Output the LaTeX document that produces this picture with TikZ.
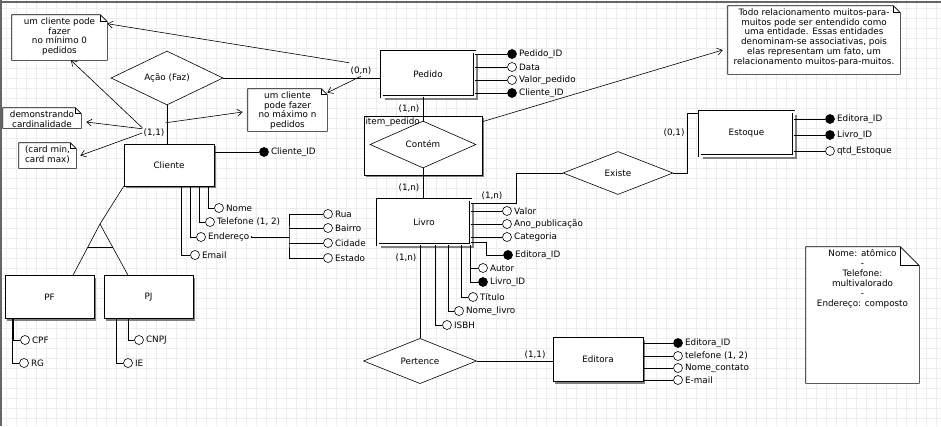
\documentclass[tikz,border=0pt]{standalone}
\usepackage{fontspec}
\setmainfont{DejaVu Sans}
\usetikzlibrary{shapes.geometric,shadows,arrows.meta}
\newcommand{\atrib}[4]{\node[atrib] (#1) at (#2,#3) {}; \node[rotulo] (#1-t) at (#1.east) {#4};}
\newcommand{\chave}[4]{\node[chave] (#1) at (#2,#3) {}; \node[rotulo] (#1-t) at (#1.east) {#4};}
\newcommand{\nota}[7]{\node[notabox, minimum width=#4, minimum height=#5] (#1) at (#2,#3) {};
  \filldraw[fill=white] (#1.north west) -- ([xshift=-#6]#1.north east) -- ([yshift=-#6]#1.north east) -- (#1.south east) -- (#1.south west) -- cycle;
  \draw ([xshift=-#6]#1.north east) -- ([xshift=-#6,yshift=-#6]#1.north east) -- ([yshift=-#6]#1.north east);
  \node[notatexto] (#1-t) at ([yshift=-2.5pt]#1.north) {#7};}
\tikzset{
  sombra/.style={drop shadow={shadow xshift=#1, shadow yshift=-#1, fill=black!50, opacity=1}},
  entidade/.style={draw, fill=white, inner sep=0pt, sombra=2pt},
  associativa/.style={draw, fill=white, inner sep=0pt, double, double distance=2pt, sombra=3.5pt},
  relacao/.style={diamond, draw, fill=white, inner sep=0pt},
  atrib/.style={circle, draw, fill=white, inner sep=0pt, minimum size=9pt},
  chave/.style={atrib, fill=black},
  rotulo/.style={anchor=west, inner sep=2pt},
  card/.style={inner sep=1pt},
  notabox/.style={draw=none, inner sep=0pt},
  notatexto/.style={anchor=north, align=center, inner sep=0pt},
  seta/.style={-{Straight Barb[length=5pt,width=7pt]}},
  rejilla/.style={black!7, line width=0.4pt}
}
\begin{document}
\begin{tikzpicture}[x=1pt, y=-1pt, semithick, font=\fontsize{8.8}{9.9}\selectfont]
        \useasboundingbox (0,0) rectangle (941,426);
        \fill[white] (0,0) rectangle (941,426);
        \foreach \gx in {6,16,...,936} \draw[rejilla] (\gx,0) -- (\gx,426);
        \foreach \gy in {8,18,...,418} \draw[rejilla] (0,\gy) -- (941,\gy);
        \draw[black!60, line width=1.5pt] (0,2) -- (941,2);
        \draw[black!60, line width=1.5pt] (1,0) -- (1,426);

        % notas
        \nota{nota1}{59.5}{37.5}{95pt}{45pt}{7pt}{um cliente pode\\fazer\\no mínimo 0\\pedidos}
        \nota{nota2}{42}{118}{78pt}{20pt}{6pt}{demonstrando\\cardinalidade}
        \nota{nota3}{47.5}{155.5}{57pt}{25pt}{6pt}{(card min,\\card max)}
        \nota{nota4}{287.5}{110}{79pt}{42pt}{6pt}{um cliente\\pode fazer\\no máximo n\\pedidos}
        \nota{nota5}{814}{40}{172pt}{68pt}{7pt}{Todo relacionamento muitos-para-\\muitos pode ser entendido como\\uma entidade. Essas entidades\\denominam-se associativas, pois\\elas representam um fato, um\\relacionamento muitos-para-muitos.}
        \nota{nota6}{862.5}{315}{113pt}{136pt}{19pt}{Nome: atômico\\-\\Telefone:\\multivalorado\\-\\Endereço: composto}

        % entidades
        \node[entidade, minimum width=90pt, minimum height=42pt] (cliente) at (169,165) {Cliente};
        \node[associativa, minimum width=93pt, minimum height=45pt] (pedido) at (428,74) {Pedido};
        \node[associativa, minimum width=93pt, minimum height=45pt] (livro) at (424,222) {Livro};
        \node[associativa, minimum width=94pt, minimum height=44pt] (estoque) at (746.5,133.5) {Estoque};
        \node[entidade, minimum width=90pt, minimum height=44pt] (editora) at (598,359.5) {Editora};
        \node[entidade, minimum width=89pt, minimum height=43pt] (pf) at (49.5,297) {PF};
        \node[entidade, minimum width=89pt, minimum height=43pt] (pj) at (148.5,297) {PJ};
        \node[entidade, minimum width=118pt, minimum height=59pt] (itempedido) at (423,145.5) {};

        % relacionamentos
        \node[relacao, minimum width=112pt, minimum height=38pt] (faz) at (167,78) {Ação (Faz)};
        \node[relacao, minimum width=106pt, minimum height=47pt] (contem) at (423,144.5) {Contém};
        \node[relacao, minimum width=110pt, minimum height=43pt] (existe) at (618,173) {Existe};
        \node[relacao, minimum width=113pt, minimum height=39pt] (pertence) at (420,361) {Pertence};
        \node[anchor=north west, inner sep=1.5pt] (itempedido-t) at (itempedido.north west) {item\_pedido};

        \draw (faz.south) -- (cliente.north -| faz.south);
        \draw (faz.east) -- (pedido.west |- faz.east);
        \draw (contem.north) -- (pedido.south -| contem.north);
        \draw (contem.south) -- (livro.north -| contem.south);
        \draw ([yshift=-4pt]livro.north east) -| ([xshift=-46pt]existe.west) -- (existe.west);
        \draw (existe.east) -- ++(14,0) |- ([yshift=20pt]estoque.west);
        \draw (pertence.north) -- (livro.south -| pertence.north);
        \draw (pertence.east) -- (editora.west |- pertence.east);

        % especializacao
        \coordinate (isa) at (100,224);
        \draw (cliente.south west) -- (isa);
        \draw (isa) -- ([xshift=23.5pt]pf.north);
        \draw (isa) -- ([xshift=-20.5pt]pj.north);
        \draw (87.8,247) -- (112.6,247);

        % cardinalidades
        \node[card] (card-cli) at (154,133) {(1,1)};
        \node[card] (card-ped) at (361,71) {(0,n)};
        \node[card] (card-pc) at (409,109) {(1,n)};
        \node[card] (card-cl) at (409,188) {(1,n)};
        \node[card] (card-le) at (492,196) {(1,n)};
        \node[card] (card-est) at (674,133) {(0,1)};
        \node[card] (card-lp) at (406,258) {(1,n)};
        \node[card] (card-ed) at (535,355) {(1,1)};

        % setas das notas
        \draw[seta] (card-cli.north west) -- (nota1.south -| 71,0);
        \draw[seta] ([yshift=-1pt]card-cli.north west) -- ([xshift=5pt,yshift=-4pt]nota2.east);
        \draw[seta] (card-cli.west) -- ([xshift=4pt]nota3.east);
        \draw[seta] ([yshift=5pt]card-cli.north east) -- ([xshift=-5pt,yshift=-2pt]nota4.west);
        \draw[seta] ([yshift=3pt]card-ped.north west) -- ([yshift=-9pt]nota1.north east);
        \draw[seta] (card-ped.south) -- ([yshift=-4pt]nota4.north east);
        \draw[seta] ([yshift=-6pt]itempedido.north east) -- ([xshift=-5pt,yshift=-10pt]nota5.west);

        % Cliente
        \chave{cid}{264}{152}{Cliente\_ID}
        \atrib{nome}{219}{208}{Nome}
        \atrib{fone}{210}{222}{Telefone (1, 2)}
        \atrib{ender}{201}{237}{Endereço}
        \atrib{email}{195}{255}{Email}
        \draw (cliente.east |- cid) -- (cid);
        \draw (nome) -| ([xshift=39pt]cliente.south);
        \draw (fone) -| ([xshift=30pt]cliente.south);
        \draw (ender) -| ([xshift=21pt]cliente.south);
        \draw (email) -| ([xshift=12pt]cliente.south);
        % endereco
        \coordinate (barra) at (289,237);
        \atrib{rua}{328}{214}{Rua}
        \atrib{bairro}{328}{228}{Bairro}
        \atrib{cidade}{328}{243}{Cidade}
        \atrib{estado}{328}{258}{Estado}
        \fill (ender-t.east) circle[radius=0.9pt];
        \draw (ender-t.east) -- (barra);
        \draw (rua) -| (barra) |- (estado);
        \draw (bairro) -- (bairro -| barra);
        \draw (cidade) -- (cidade -| barra);

        % PF e PJ
        \atrib{cpf}{25}{340}{CPF}
        \atrib{rg}{24}{363}{RG}
        \atrib{cnpj}{139}{340}{CNPJ}
        \atrib{ie}{128}{363}{IE}
        \draw (cpf) -| ([xshift=-36pt]pf.south);
        \draw (rg) -| ([xshift=-37pt]pf.south);
        \draw (cnpj) -| ([xshift=-20.5pt]pj.south);
        \draw (ie) -| ([xshift=-32.5pt]pj.south);

        % Pedido
        \chave{pid}{512}{54}{Pedido\_ID}
        \atrib{pdata}{512}{67}{Data}
        \atrib{pvalor}{512}{80}{Valor\_pedido}
        \chave{pcli}{512}{93}{Cliente\_ID}
        \draw (pedido.east |- pid) -- (pid);
        \draw (pedido.east |- pdata) -- (pdata);
        \draw (pedido.east |- pvalor) -- (pvalor);
        \draw (pedido.east |- pcli) -- (pcli);

        % Estoque
        \chave{eedid}{830}{119}{Editora\_ID}
        \chave{elid}{830}{135}{Livro\_ID}
        \atrib{eqtd}{830}{151}{qtd\_Estoque}
        \draw (estoque.east |- eedid) -- (eedid);
        \draw (estoque.east |- elid) -- (elid);
        \draw (estoque.east |- eqtd) -- (eqtd);

        % Livro
        \atrib{lvalor}{507}{211}{Valor}
        \atrib{lano}{507}{224}{Ano\_publicação}
        \atrib{lcat}{507}{237}{Categoria}
        \chave{ledid}{508}{255}{Editora\_ID}
        \atrib{lautor}{483}{268}{Autor}
        \chave{llid}{483}{282}{Livro\_ID}
        \atrib{ltit}{473}{297}{Título}
        \atrib{lnome}{459}{311}{Nome\_livro}
        \atrib{lisbh}{447}{325}{ISBH}
        \draw (livro.east |- lvalor) -- (lvalor);
        \draw (livro.east |- lano) -- (lano);
        \draw (livro.east |- lcat) -- (lcat);
        \draw ([yshift=-20pt]livro.east) -- ++(15,0) |- (ledid);
        \draw (lautor) -| ([xshift=46pt]livro.south);
        \draw (llid) -| ([xshift=46pt]livro.south);
        \draw (ltit) -| ([xshift=37pt]livro.south);
        \draw (lnome) -| ([xshift=24pt]livro.south);
        \draw (lisbh) -| ([xshift=11pt]livro.south);

        % Editora
        \chave{edid}{678}{343}{Editora\_ID}
        \atrib{edfone}{678}{356}{telefone (1, 2)}
        \atrib{edcont}{678}{368}{Nome\_contato}
        \atrib{edmail}{678}{380}{E-mail}
        \draw (editora.east |- edid) -- (edid);
        \draw (editora.east |- edfone) -- (edfone);
        \draw (editora.east |- edcont) -- (edcont);
        \draw (editora.east |- edmail) -- (edmail);
\end{tikzpicture}
\end{document}
